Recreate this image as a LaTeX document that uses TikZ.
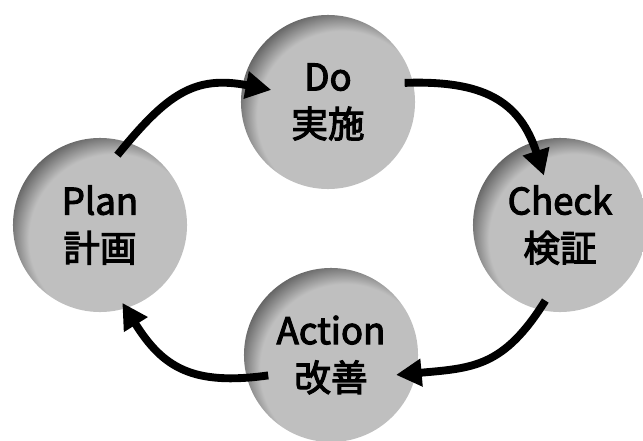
\documentclass[tikz,border=0pt]{standalone}
\usepackage{fontspec}
\setmainfont{Noto Sans CJK JP}
\newfontfamily\phasefont{Noto Sans CJK JP}[FakeBold=3]
\usetikzlibrary{arrows.meta, calc}
\usepackage{xcolor}
\definecolor{pdcafill}{RGB}{191,191,191}
\definecolor{pdcaedge}{RGB}{95,95,95}
\pgfdeclareradialshading{pdcashade}{\pgfpoint{8bp}{-8bp}}{color(0bp)=(pdcafill); color(24.5bp)=(pdcafill); color(30bp)=(pdcaedge); color(50bp)=(pdcaedge)}

\begin{document}
\begin{tikzpicture}[x=0.025cm, y=0.025cm]
  \tikzset{
    phase/.style={
      circle,
      minimum size=4.35cm,
      inner sep=0pt,
      shade,
      shading=pdcashade,
      align=center,
      font=\phasefont\fontsize{26}{33.5}\selectfont
    },
    flow/.style={
      line width=5.6pt,
      -{Triangle[length=0.64cm, width=0.66cm]}
    }
  }
  \clip (0,0) rectangle (643,-440);

  % Draw the four phases
  \node[phase] at (100,-225) (plan) {Plan\\計画};
  \node[phase] at (328,-102) (do) {Do\\実施};
  \node[phase] at (560,-225) (check) {Check\\検証};
  \node[phase] at (331,-355) (action) {Action\\改善};

  % Ends of the arrows, inside the circles
  \coordinate (p1) at ($(plan)+(76:72)$);
  \coordinate (d1) at ($(do)+(168:58)$);
  \coordinate (d2) at ($(do)+(14:79)$);
  \coordinate (c1) at ($(check)+(108:52)$);
  \coordinate (c2) at ($(check)+(259:77)$);
  \coordinate (a1) at ($(action)+(-17:68)$);
  \coordinate (a2) at ($(action)+(198:66)$);
  \coordinate (p2) at ($(plan)+(-74:81)$);

  % Draw the cycle
  \draw[flow] (p1) to[out=51, in=169, looseness=1.2] (d1);
  \draw[flow] (d2) to[out=2, in=108, looseness=1.2] (c1);
  \draw[flow] (c2) to[out=238, in=5, looseness=1.2] (a1);
  \draw[flow] (a2) to[out=188, in=-58, looseness=1.2] (p2);

\end{tikzpicture}
\end{document}
